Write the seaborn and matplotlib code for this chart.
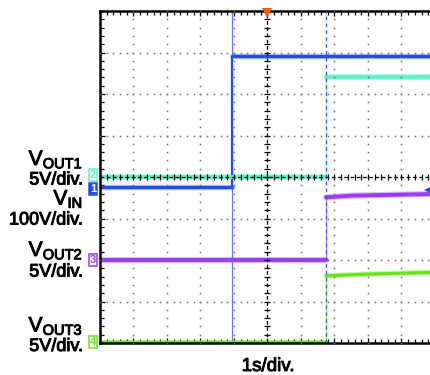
import numpy as np
import pandas as pd
import matplotlib
matplotlib.use("Agg")
import matplotlib.pyplot as plt
import matplotlib.patheffects as pe
from matplotlib.ticker import MultipleLocator
import seaborn as sns

# ---- captured waveforms (time in s, amplitude in V) ----
vin_t = [0.0, 3.94, 3.94, 10.0]
vin_v = [0.0, 0.0, 315.0, 315.0]

vout1_t = [0.0, 6.75, 6.75, 10.0]
vout1_v = [0.0, 0.0, 12.0, 12.0]

vout2_t = [0.0, 6.75, 6.75, 7.5, 9.85, 10.0]
vout2_v = [0.0, 0.0, 7.55, 7.75, 7.95, 7.95]

vout3_t = [0.0, 6.75, 6.75, 8.0, 9.85, 10.0]
vout3_v = [0.0, 0.0, 7.95, 8.15, 8.35, 8.35]

channel_names = ["VIN", "VOUT1", "VOUT2", "VOUT3"]
channel_numbers = ["1", "2", "3", "4"]
volts_per_div = [100.0, 5.0, 5.0, 5.0]
left_labels = [r"$\mathregular{V_{IN}}$", r"$\mathregular{V_{OUT1}}$",
               r"$\mathregular{V_{OUT2}}$", r"$\mathregular{V_{OUT3}}$"]
scale_labels = ["100V/div.", "5V/div.", "5V/div.", "5V/div."]
time_label = "1s/div."

# ---- screen layout (divisions) ----
ground_div = [3.76, 4.0, 2.0, 0.03]
tag_div = [3.71, 4.05, 2.0, 0.03]
colors = ["#1f4fe6", "#5ff2c4", "#9d3cf5", "#66e51a"]
trace_lw = [2.3, 2.8, 2.8, 2.3]
n_xdiv, n_ydiv = 10, 8

sns.set_theme(style="white")
plt.rcParams["font.family"] = ["Liberation Sans", "DejaVu Sans"]
plt.rcParams["mathtext.fontset"] = "custom"
plt.rcParams["mathtext.rm"] = "Liberation Sans"
plt.rcParams["mathtext.it"] = "Liberation Sans:italic"
plt.rcParams["mathtext.bf"] = "Liberation Sans:bold"

heavy = [pe.withStroke(linewidth=0.7, foreground="black")]

W, H = 431, 375
fig = plt.figure(figsize=(W / 100, H / 100), dpi=100)
fig.patch.set_facecolor("white")
ax = fig.add_axes([100 / W, 32 / H, 335 / W, 332 / H])
ax.set_facecolor("white")
ax.set_xlim(0, n_xdiv)
ax.set_ylim(0, n_ydiv)

# ---- traces ----
series = [(vin_t, vin_v), (vout1_t, vout1_v), (vout2_t, vout2_v), (vout3_t, vout3_v)]
rows = []
for ci, (tt, vv) in enumerate(series):
    seg = 0
    for k in range(len(tt)):
        if k > 0 and tt[k] == tt[k - 1]:
            seg += 1
        rows.append(dict(channel=channel_names[ci], segment=f"{ci}-{seg}",
                         t=tt[k], div=vv[k] / volts_per_div[ci] + ground_div[ci]))
df = pd.DataFrame(rows)

# soft halo that gives the sampled traces their fuzzy width
for ci, name in enumerate(channel_names):
    sub = df[df.channel == name]
    sns.lineplot(data=sub, x="t", y="div", units="segment", estimator=None,
                 color=colors[ci], lw=trace_lw[ci] + 1.6, alpha=0.35,
                 ax=ax, legend=False, zorder=2, sort=False)
    sns.lineplot(data=sub, x="t", y="div", units="segment", estimator=None,
                 color=colors[ci], lw=trace_lw[ci], ax=ax, legend=False,
                 zorder=2.2, sort=False)

# fast edges
for ci, (tt, vv) in enumerate(series):
    for k in range(1, len(tt)):
        if tt[k] == tt[k - 1]:
            y0 = vv[k - 1] / volts_per_div[ci] + ground_div[ci]
            y1 = vv[k] / volts_per_div[ci] + ground_div[ci]
            ax.plot([tt[k], tt[k]], [y0, y1], color=colors[ci],
                    lw=1.6 if ci == 0 else 0.8, alpha=1 if ci == 0 else 0.7,
                    zorder=2.1, solid_capstyle="butt")

# cursors
ax.axvline(vin_t[1], color="#6f6ff2", lw=0.9, zorder=2.05)
ax.axvline(vout1_t[1], color="#3a55dd", lw=0.9, ls=(0, (3, 2.5)), zorder=2.6)

# ---- graticule ----
minor_y = np.arange(0, n_ydiv + 1e-9, 0.2)
minor_x = np.arange(0, n_xdiv + 1e-9, 0.2)
for gx in range(1, n_xdiv):
    if gx == n_xdiv // 2:
        continue
    ax.plot([gx] * len(minor_y), minor_y, ls="none", marker="s", ms=1.1,
            mew=0, color="#6e6e6e", zorder=3)
for gy in range(1, n_ydiv):
    if gy == n_ydiv // 2:
        continue
    ax.plot(minor_x, [gy] * len(minor_x), ls="none", marker="s", ms=1.1,
            mew=0, color="#6e6e6e", zorder=3)

cx, cy = n_xdiv / 2, n_ydiv / 2
ax.axvline(cx, color="black", lw=0.9, ls=(0, (3, 2)), zorder=3)
ax.axhline(cy, color="black", lw=0.9, ls=(0, (3, 2)), zorder=3)
ax.plot([cx] * len(minor_y), minor_y, ls="none", marker="_", ms=5, mew=0.9,
        color="black", zorder=3)
ax.plot(minor_x, [cy] * len(minor_x), ls="none", marker="|", ms=5, mew=0.9,
        color="black", zorder=3)

for side in ["left", "top", "bottom"]:
    ax.spines[side].set_visible(True)
    ax.spines[side].set_color("black")
    ax.spines[side].set_linewidth(1.8)
ax.spines["right"].set_visible(False)
ax.xaxis.set_major_locator(MultipleLocator(1))
ax.yaxis.set_major_locator(MultipleLocator(1))
ax.xaxis.set_minor_locator(MultipleLocator(0.2))
ax.yaxis.set_minor_locator(MultipleLocator(0.2))
ax.tick_params(which="both", direction="in", left=True, top=True, bottom=True,
               right=False, labelleft=False, labelbottom=False, color="black")
ax.tick_params(which="major", length=3.5, width=0.9)
ax.tick_params(which="minor", length=3, width=0.9)
ax.set_xlabel("")
ax.set_ylabel("")

# trigger markers
ax.plot([cx], [n_ydiv - 0.06], marker="v", ms=6.5, color="#ff5a0a", mew=0,
        clip_on=False, zorder=5)
ax.plot([9.83], [3.69], marker="<", ms=6.5, color=colors[0], mew=0,
        clip_on=False, zorder=5)

# channel ground tags
for ci in range(4):
    filled = ci == 0
    ax.annotate(channel_numbers[ci], xy=(0, tag_div[ci]),
                xycoords=("axes fraction", "data"), xytext=(-2.8, 0),
                textcoords="offset points", ha="right", va="center",
                fontsize=8, fontweight="bold",
                color="white" if filled else colors[ci],
                bbox=dict(boxstyle="square,pad=0.1",
                          fc=colors[ci] if filled else "white",
                          ec=colors[ci], lw=1.1),
                annotation_clip=False, zorder=6)

# channel labels on the left
label_base = [(204.5, 224.5), (165.0, 184.5), (256.0, 276.5), (331.5, 351.0)]
for ci in range(4):
    yb1, yb2 = label_base[ci]
    fig.text(83 / W, 1 - yb1 / H, left_labels[ci], ha="right", va="baseline",
             fontsize=15, color="black", path_effects=heavy)
    fig.text(83 / W, 1 - yb2 / H, scale_labels[ci], ha="right", va="baseline",
             fontsize=13, color="black", path_effects=heavy)

fig.text(268 / W, 1 - 371 / H, time_label, ha="center", va="baseline",
         fontsize=13.5, color="black", path_effects=heavy)

fig.savefig("out.png", dpi=100)
